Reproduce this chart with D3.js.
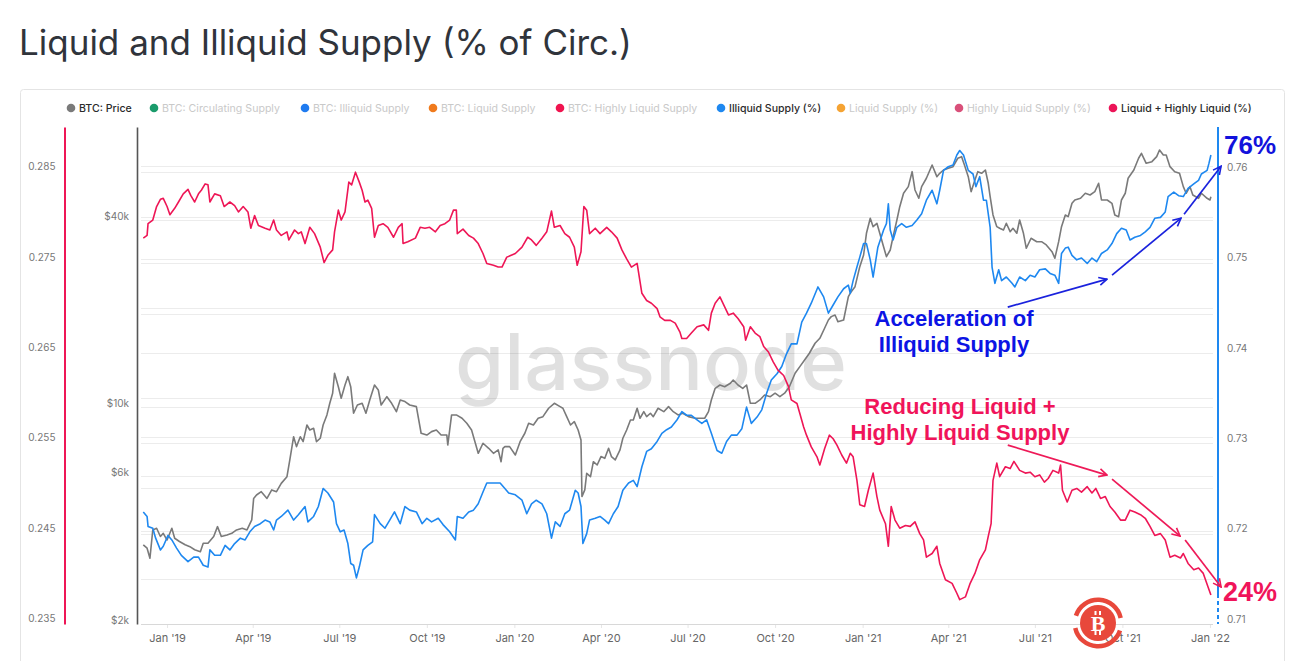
<!DOCTYPE html>
<html><head><meta charset="utf-8">
<script src="https://cdn.jsdelivr.net/npm/d3@7"></script>
<style>body{margin:0;background:#fff;}svg{display:block;font-family:Inter,"Noto Sans",sans-serif;}</style>
</head><body><svg id="c" width="1292" height="661"></svg>
<script>
// ---------- DATA (day offsets from 2019-01-01) ----------
const priceData = [[-25,3600],[-21,3510],[-18,3260],[-15,4020],[-11,4070],[-7,3830],[-4,3920],[0,3730],[5,4070],[8,3780],[13,3690],[19,3600],[24,3550],[29,3470],[35,3420],[38,3640],[43,3640],[49,3830],[53,4120],[57,3830],[63,3870],[68,3920],[73,4020],[79,4070],[84,4020],[89,4330],[91,5080],[94,5210],[99,5340],[105,5080],[110,5410],[115,5340],[120,5680],[126,5970],[129,6760],[133,8030],[136,7460],[140,8030],[143,7740],[147,8760],[150,8440],[154,8550],[157,7740],[161,7940],[164,8760],[168,9440],[171,10290],[174,11090],[176,12860],[180,11640],[183,10680],[187,11790],[190,12540],[193,11640],[196,9560],[200,10160],[205,10290],[209,9560],[213,10550],[218,11790],[222,11360],[225,10160],[231,10810],[236,10290],[241,9670],[245,10550],[250,10420],[255,10160],[262,10040],[267,8240],[273,8130],[278,8340],[283,8440],[288,8130],[294,8130],[295,7550],[299,9440],[304,9440],[310,9210],[315,8870],[320,8440],[324,7650],[327,7100],[332,7650],[338,7370],[343,7100],[348,7280],[351,6670],[353,7370],[355,7460],[360,7460],[366,7010],[371,7740],[376,8240],[380,8870],[385,8760],[390,9210],[395,9320],[401,9920],[407,10290],[413,10040],[416,9920],[420,9320],[424,8760],[428,8980],[432,8440],[435,7840],[436,5150],[439,5410],[441,6120],[445,5970],[448,6670],[452,6510],[456,6930],[460,6840],[464,7370],[467,6930],[471,6760],[476,7280],[479,7940],[483,8440],[487,9090],[490,9090],[494,9920],[497,9210],[501,9670],[504,9320],[508,9560],[511,9320],[516,9920],[522,9670],[527,10040],[532,9670],[537,9440],[542,9560],[548,9320],[555,9210],[560,9210],[565,9210],[569,9670],[572,10550],[576,11500],[581,11790],[586,11640],[592,11940],[595,12230],[600,11790],[605,11500],[609,11790],[613,10290],[618,10290],[623,10550],[628,10950],[634,10810],[639,11090],[644,10810],[649,11090],[654,11640],[660,12860],[665,13510],[670,14190],[675,14920],[681,16070],[686,16670],[691,17960],[695,19100],[698,19580],[702,19820],[705,18860],[711,19100],[716,22710],[719,23570],[723,24460],[728,28370],[732,30940],[735,36350],[739,40630],[742,38180],[746,39150],[749,36350],[753,32910],[756,30560],[760,32110],[763,35450],[767,40120],[770,44290],[774,48920],[779,51380],[783,57420],[786,50130],[790,47130],[793,51380],[798,54680],[804,60350],[809,55330],[812,56740],[816,58150],[821,58890],[826,59600],[831,63430],[835,64190],[838,60350],[842,55330],[845,49500],[849,53990],[852,57420],[856,56740],[860,58150],[863,52680],[865,47700],[868,41640],[872,38180],[875,37730],[879,37250],[882,39150],[886,36790],[889,37730],[893,36350],[896,40120],[900,36350],[903,32520],[908,35030],[914,34150],[919,34150],[924,33330],[930,31710],[933,30200],[937,34150],[940,38180],[944,41640],[947,41120],[951,45420],[954,46540],[960,47130],[965,48920],[970,48300],[975,49500],[979,52680],[982,46540],[988,46540],[993,45410],[996,41640],[1000,41120],[1003,46540],[1007,48920],[1010,54680],[1016,58150],[1021,63430],[1024,65810],[1029,61110],[1035,61850],[1040,64190],[1043,67450],[1047,64990],[1050,64990],[1054,59600],[1059,57420],[1064,56740],[1068,51380],[1071,48920],[1075,51380],[1078,48300],[1084,47130],[1087,48920],[1093,47130],[1096,46540],[1097,47700]];

const illiquidData = [[-25,0.7224],[-21,0.7219],[-20,0.7208],[-15,0.7206],[-12,0.7195],[-7,0.7182],[-4,0.7186],[1,0.7198],[5,0.7193],[10,0.7184],[15,0.7176],[22,0.7169],[28,0.7174],[33,0.7174],[38,0.7165],[43,0.7163],[45,0.7182],[50,0.7176],[56,0.7176],[61,0.7187],[66,0.7182],[71,0.7189],[77,0.7195],[82,0.7193],[87,0.7202],[92,0.7208],[98,0.7211],[103,0.7215],[108,0.7213],[112,0.7204],[115,0.7215],[120,0.7219],[127,0.7226],[133,0.7215],[138,0.7221],[145,0.7230],[148,0.7213],[154,0.7219],[159,0.7230],[164,0.7250],[169,0.7245],[175,0.7235],[178,0.7211],[182,0.7202],[186,0.7204],[190,0.7189],[193,0.7167],[196,0.7165],[199,0.7151],[202,0.7163],[206,0.7182],[211,0.7187],[216,0.7191],[218,0.7221],[224,0.7211],[229,0.7206],[234,0.7215],[239,0.7224],[245,0.7211],[250,0.7230],[255,0.7226],[262,0.7224],[268,0.7211],[273,0.7217],[278,0.7213],[285,0.7217],[290,0.7210],[297,0.7202],[303,0.7193],[305,0.7219],[311,0.7217],[317,0.7224],[322,0.7226],[327,0.7233],[332,0.7246],[336,0.7256],[343,0.7256],[350,0.7256],[355,0.7250],[359,0.7245],[366,0.7243],[373,0.7237],[378,0.7222],[383,0.7233],[388,0.7237],[394,0.7233],[399,0.7222],[404,0.7195],[408,0.7213],[413,0.7208],[418,0.7222],[423,0.7226],[429,0.7248],[432,0.7245],[435,0.7230],[437,0.7189],[441,0.7200],[444,0.7215],[450,0.7217],[455,0.7219],[460,0.7215],[464,0.7211],[469,0.7222],[474,0.7230],[479,0.7248],[485,0.7256],[490,0.7259],[494,0.7252],[499,0.7274],[504,0.7291],[509,0.7294],[515,0.7302],[520,0.7311],[525,0.7315],[530,0.7318],[536,0.7326],[541,0.7335],[546,0.7331],[551,0.7331],[557,0.7326],[562,0.7322],[567,0.7326],[572,0.7311],[578,0.7292],[583,0.7289],[588,0.7302],[593,0.7309],[599,0.7309],[604,0.7316],[609,0.7340],[614,0.7322],[620,0.7329],[625,0.7337],[630,0.7355],[635,0.7370],[641,0.7377],[646,0.7385],[651,0.7399],[656,0.7410],[662,0.7410],[667,0.7434],[672,0.7444],[677,0.7455],[684,0.7473],[690,0.7462],[695,0.7444],[700,0.7453],[705,0.7462],[711,0.7471],[716,0.7475],[718,0.7466],[721,0.7480],[725,0.7495],[728,0.7506],[732,0.7521],[735,0.7521],[739,0.7503],[742,0.7484],[747,0.7517],[753,0.7536],[756,0.7543],[758,0.7565],[760,0.7536],[763,0.7525],[767,0.7539],[772,0.7543],[777,0.7539],[783,0.7541],[788,0.7547],[793,0.7554],[798,0.7569],[804,0.7580],[809,0.7565],[812,0.7580],[816,0.7602],[821,0.7606],[826,0.7608],[830,0.7619],[833,0.7624],[837,0.7619],[842,0.7602],[847,0.7598],[850,0.7584],[854,0.7595],[858,0.7569],[861,0.7569],[865,0.7539],[867,0.7495],[870,0.7477],[874,0.7492],[877,0.7480],[882,0.7484],[888,0.7477],[891,0.7473],[896,0.7484],[902,0.7480],[907,0.7486],[912,0.7484],[917,0.7492],[923,0.7493],[928,0.7488],[933,0.7486],[937,0.7477],[940,0.7510],[944,0.7516],[947,0.7517],[951,0.7508],[956,0.7503],[961,0.7505],[967,0.7499],[972,0.7505],[977,0.7501],[982,0.7510],[988,0.7514],[993,0.7521],[998,0.7532],[1003,0.7538],[1008,0.7536],[1012,0.7525],[1017,0.7528],[1023,0.7530],[1028,0.7534],[1033,0.7539],[1038,0.7549],[1044,0.7550],[1049,0.7556],[1052,0.7573],[1058,0.7578],[1063,0.7574],[1068,0.7573],[1073,0.7582],[1079,0.7587],[1084,0.7591],[1087,0.7598],[1093,0.7602],[1095,0.7610],[1097,0.7619]];

const liquidData = [[-25,0.2777],[-21,0.2780],[-20,0.2793],[-15,0.2797],[-11,0.2812],[-7,0.2820],[-4,0.2821],[0,0.2812],[3,0.2803],[8,0.2810],[12,0.2817],[17,0.2826],[22,0.2831],[25,0.2824],[29,0.2817],[33,0.2826],[36,0.2830],[40,0.2837],[43,0.2836],[45,0.2817],[50,0.2826],[56,0.2824],[60,0.2812],[66,0.2817],[71,0.2813],[75,0.2806],[80,0.2812],[85,0.2806],[88,0.2788],[92,0.2802],[96,0.2791],[103,0.2788],[108,0.2786],[112,0.2797],[115,0.2786],[120,0.2780],[126,0.2784],[128,0.2775],[134,0.2786],[138,0.2782],[141,0.2784],[145,0.2771],[150,0.2789],[155,0.2782],[161,0.2767],[165,0.2750],[169,0.2758],[174,0.2764],[176,0.2784],[180,0.2808],[183,0.2797],[187,0.2806],[191,0.2839],[194,0.2836],[198,0.2850],[202,0.2839],[205,0.2830],[208,0.2817],[211,0.2819],[215,0.2810],[218,0.2778],[222,0.2791],[227,0.2793],[232,0.2789],[238,0.2778],[243,0.2789],[247,0.2793],[248,0.2771],[253,0.2773],[261,0.2777],[266,0.2789],[271,0.2788],[276,0.2789],[282,0.2784],[287,0.2791],[292,0.2793],[297,0.2797],[301,0.2808],[304,0.2808],[305,0.2782],[311,0.2787],[317,0.2780],[322,0.2777],[327,0.2771],[332,0.2760],[336,0.2749],[343,0.2747],[348,0.2745],[352,0.2745],[357,0.2756],[366,0.2760],[373,0.2767],[379,0.2778],[383,0.2775],[388,0.2769],[394,0.2777],[399,0.2784],[404,0.2807],[407,0.2789],[413,0.2791],[418,0.2782],[423,0.2778],[428,0.2767],[431,0.2747],[435,0.2762],[438,0.2812],[441,0.2808],[444,0.2782],[450,0.2788],[455,0.2782],[462,0.2789],[467,0.2784],[473,0.2777],[478,0.2764],[483,0.2754],[488,0.2745],[494,0.2749],[499,0.2716],[504,0.2708],[509,0.2705],[515,0.2699],[518,0.2690],[523,0.2686],[529,0.2686],[534,0.2683],[539,0.2673],[541,0.2666],[546,0.2666],[551,0.2672],[557,0.2679],[564,0.2681],[569,0.2675],[572,0.2694],[576,0.2705],[581,0.2712],[586,0.2701],[590,0.2692],[595,0.2694],[600,0.2688],[606,0.2679],[608,0.2664],[613,0.2679],[618,0.2672],[623,0.2668],[627,0.2657],[632,0.2651],[637,0.2640],[642,0.2631],[648,0.2625],[653,0.2613],[656,0.2598],[662,0.2594],[665,0.2583],[669,0.2568],[672,0.2559],[677,0.2546],[683,0.2535],[686,0.2526],[691,0.2544],[696,0.2559],[700,0.2555],[704,0.2548],[709,0.2537],[714,0.2528],[718,0.2539],[721,0.2535],[725,0.2509],[728,0.2482],[733,0.2480],[737,0.2498],[742,0.2517],[746,0.2491],[749,0.2476],[755,0.2461],[758,0.2436],[761,0.2480],[765,0.2465],[770,0.2456],[776,0.2459],[781,0.2458],[786,0.2463],[791,0.2450],[795,0.2443],[798,0.2424],[804,0.2428],[809,0.2436],[812,0.2417],[818,0.2399],[825,0.2395],[830,0.2384],[833,0.2377],[839,0.2380],[844,0.2395],[849,0.2406],[854,0.2421],[860,0.2432],[863,0.2447],[866,0.2461],[868,0.2509],[872,0.2528],[875,0.2513],[881,0.2524],[886,0.2522],[890,0.2530],[896,0.2520],[902,0.2517],[907,0.2518],[912,0.2513],[917,0.2515],[922,0.2507],[926,0.2511],[931,0.2520],[937,0.2517],[939,0.2526],[941,0.2498],[946,0.2485],[951,0.2498],[956,0.2500],[961,0.2496],[967,0.2502],[972,0.2495],[976,0.2500],[981,0.2489],[986,0.2491],[991,0.2480],[996,0.2474],[1002,0.2465],[1007,0.2465],[1012,0.2476],[1017,0.2474],[1023,0.2471],[1028,0.2467],[1033,0.2458],[1038,0.2448],[1044,0.2450],[1049,0.2443],[1054,0.2424],[1059,0.2426],[1065,0.2423],[1068,0.2428],[1073,0.2417],[1079,0.2410],[1084,0.2412],[1089,0.2406],[1094,0.2391],[1097,0.2382]];

const leftTicks = [0.235,0.245,0.255,0.265,0.275,0.285];
const rightTicks = [0.71,0.72,0.73,0.74,0.75,0.76];
const priceTicks = [2000,6000,10000,40000];
const priceTickLabels = ["$2k","$6k","$10k","$40k"];
const priceGrid = [2000,4000,6000,8000,10000,20000,30000,40000,60000];

const legendLabels = ["BTC: Price","BTC: Circulating Supply","BTC: Illiquid Supply","BTC: Liquid Supply","BTC: Highly Liquid Supply","Illiquid Supply (%)","Liquid Supply (%)","Highly Liquid Supply (%)","Liquid + Highly Liquid (%)"];
const legendColors = ["#7a7a7a","#1a9b6b","#1f7bf0","#f07a1c","#f0144f","#1e88f0","#f5a333","#d9507a","#ec1458"];
const legendActive = [true,false,false,false,false,true,false,false,true];

// annotation arrows: [startDay, startValue, endDay, endValue]
const blueArrows = [[883.5,0.74507,987.8,0.74816],[993.1,0.74861,1065.6,0.75491],[1068.8,0.75535,1107.7,0.76066]];
const redArrows = [[883.5,0.25480,987.8,0.25148],[993.1,0.25104,1064.6,0.24473],[1069.9,0.24429,1107.7,0.23909]];

// ---------- CHART ----------
const svg = d3.select("#c");
const base = Date.UTC(2019,0,1);
const toDate = d => new Date(base + d*864e5);
const x = d3.scaleUtc().domain([toDate(-29.5), toDate(1099.2)]).range([139,1213]);
const yL = d3.scaleLinear().domain([0.235,0.29]).range([624,127]);
const yR = d3.scaleLinear().domain([0.71,0.765]).range([624,127]);
const yP = d3.scaleLog().domain([2000,80000]).range([624,127]);

const RED = "#ee1656", BLUE = "#1e88f0", GRAY = "#7a7a7a";

// container + title
svg.append("rect").attr("x",20.5).attr("y",89.5).attr("width",1264).attr("height",640).attr("rx",3)
  .attr("fill","none").attr("stroke","#e4e4e4");
svg.append("text").attr("x",19).attr("y",55).attr("font-size",35).attr("fill","#30343b")
  .text("Liquid and Illiquid Supply (% of Circ.)");

// grid
const grid = svg.append("g").attr("stroke","#ececec").attr("stroke-width",1);
grid.selectAll("line.a").data(d3.range(0.235,0.2851,0.005)).join("line").attr("class","a")
  .attr("x1",141).attr("x2",1213).attr("y1",d=>Math.round(yL(d))+0.5).attr("y2",d=>Math.round(yL(d))+0.5);
grid.selectAll("line.b").data(priceGrid).join("line").attr("class","b")
  .attr("x1",141).attr("x2",1213).attr("y1",d=>Math.round(yP(d))+0.5).attr("y2",d=>Math.round(yP(d))+0.5);

// watermark
svg.append("text").attr("x",455).attr("y",390).attr("font-size",78).attr("font-weight",500)
  .attr("fill","#000").attr("fill-opacity",0.12).attr("textLength",392).attr("lengthAdjust","spacingAndGlyphs")
  .text("glassnode");

// x axis
const xAx = svg.append("g").attr("transform","translate(0,624)")
  .call(d3.axisBottom(x).ticks(d3.utcMonth.every(3)).tickFormat(d3.utcFormat("%b '%y")).tickSizeInner(4).tickSizeOuter(0).tickPadding(6));
xAx.select(".domain").remove();
xAx.selectAll(".tick line").attr("stroke","#e6e6e6");
xAx.selectAll(".tick text").attr("fill","#666").attr("font-size",11).attr("font-family","Inter");
svg.append("line").attr("x1",141).attr("x2",1213).attr("y1",624.5).attr("y2",624.5).attr("stroke","#d8d8d8");

// series
const lineOf = (ys) => d3.line().x(d=>x(toDate(d[0]))).y(d=>ys(d[1]));
const lines = svg.append("g").attr("fill","none").attr("stroke-width",1.6).attr("stroke-linejoin","round");
lines.append("path").datum(priceData).attr("stroke",GRAY).attr("d",lineOf(yP));
lines.append("path").datum(illiquidData).attr("stroke",BLUE).attr("d",lineOf(yR));
lines.append("path").datum(liquidData).attr("stroke",RED).attr("d",lineOf(yL));

// left axis (liquid %)
const lAx = svg.append("g").attr("transform","translate(64.5,0)")
  .call(d3.axisLeft(yL).tickValues(leftTicks).tickFormat(d3.format(".3f")).tickSize(0).tickPadding(9));
lAx.select(".domain").attr("stroke",RED).attr("stroke-width",2);
lAx.selectAll(".tick text").attr("y",-5.5).attr("fill","#777").attr("font-size",10).attr("font-family","Inter");

// price axis
const pAx = svg.append("g").attr("transform","translate(137,0)")
  .call(d3.axisLeft(yP).tickValues(priceTicks).tickFormat((d,i)=>priceTickLabels[i]).tickSize(0).tickPadding(8));
pAx.select(".domain").attr("stroke","#555").attr("stroke-width",1.6);
pAx.selectAll(".tick text").attr("y",-4).attr("fill","#777").attr("font-size",10).attr("font-family","Inter");

// right axis (illiquid %)
const rAx = svg.append("g").attr("transform","translate(1218,0)")
  .call(d3.axisRight(yR).tickValues(rightTicks).tickFormat(d3.format(".2f")).tickSize(0).tickPadding(9));
rAx.select(".domain").remove();
rAx.selectAll(".tick text").attr("y",-5).attr("fill","#777").attr("font-size",10).attr("font-family","Inter");
svg.append("line").attr("x1",1218).attr("x2",1218).attr("y1",yR.range()[1]).attr("y2",594).attr("stroke",BLUE).attr("stroke-width",2);
svg.append("line").attr("x1",1218).attr("x2",1218).attr("y1",594).attr("y2",yR.range()[0]).attr("stroke",BLUE).attr("stroke-width",2).attr("stroke-dasharray","4,3");

// legend
const legX = [79,162,313,441,568,729,849,967,1121];
const leg = svg.append("g").attr("font-size",10.6);
legendLabels.forEach((t,i)=>{
  leg.append("circle").attr("cx",legX[i]-8).attr("cy",108).attr("r",4.3).attr("fill",legendColors[i]);
  leg.append("text").attr("x",legX[i]).attr("y",112).attr("fill",legendActive[i]?"#2b2b2b":"#c9c9c9")
    .attr("font-weight",legendActive[i]?500:400).text(t);
});

// annotations
const defs = svg.append("defs");
function marker(id,col){
  defs.append("marker").attr("id",id).attr("viewBox","0 0 10 10").attr("refX",9).attr("refY",5)
    .attr("markerWidth",10).attr("markerHeight",10).attr("markerUnits","userSpaceOnUse").attr("orient","auto")
    .append("path").attr("d","M1,1L9,5L1,9").attr("fill","none").attr("stroke",col).attr("stroke-width",1.6);
}
const ABLUE = "#1a22dd", ARED = "#ee1a58";
marker("mb",ABLUE); marker("mr",ARED);
svg.selectAll("line.ab").data(blueArrows).join("line").attr("class","ab")
  .attr("x1",d=>x(toDate(d[0]))).attr("y1",d=>yR(d[1])).attr("x2",d=>x(toDate(d[2]))).attr("y2",d=>yR(d[3]))
  .attr("stroke",ABLUE).attr("stroke-width",1.7).attr("marker-end","url(#mb)");
svg.selectAll("line.ar").data(redArrows).join("line").attr("class","ar")
  .attr("x1",d=>x(toDate(d[0]))).attr("y1",d=>yL(d[1])).attr("x2",d=>x(toDate(d[2]))).attr("y2",d=>yL(d[3]))
  .attr("stroke",ARED).attr("stroke-width",1.7).attr("marker-end","url(#mr)");

const ann = svg.append("g").attr("font-family","'Liberation Sans',Arial,sans-serif").attr("font-weight",700);
ann.append("text").attr("x",954).attr("y",326).attr("text-anchor","middle").attr("font-size",22).attr("fill","#0c14e4").text("Acceleration of");
ann.append("text").attr("x",954).attr("y",352).attr("text-anchor","middle").attr("font-size",22).attr("fill","#0c14e4").text("Illiquid Supply");
ann.append("text").attr("x",960).attr("y",414).attr("text-anchor","middle").attr("font-size",22).attr("fill","#f0145a").text("Reducing Liquid +");
ann.append("text").attr("x",960).attr("y",440).attr("text-anchor","middle").attr("font-size",22).attr("fill","#f0145a").text("Highly Liquid Supply");
ann.append("text").attr("x",1224).attr("y",154).attr("font-size",26).attr("fill","#1212dc").text("76%");
ann.append("text").attr("x",1223).attr("y",601).attr("font-size",27).attr("fill","#f0145a").text("24%");

// bitcoin badge
const logo = svg.append("g").attr("transform","translate(1098,623)");
const arc = d3.arc().innerRadius(21).outerRadius(25.5);
logo.append("path").attr("d",arc({startAngle:-1.25,endAngle:1.35})).attr("fill","#e8483b");
logo.append("path").attr("d",arc({startAngle:1.9,endAngle:4.5})).attr("fill","#e8483b");
logo.append("circle").attr("r",18).attr("fill","#e8483b");
logo.append("text").attr("x",0).attr("y",8).attr("text-anchor","middle").attr("font-size",22)
  .attr("font-weight",700).attr("font-family","'Liberation Serif',serif").attr("fill","#fff").text("B");
logo.append("rect").attr("x",-3.5).attr("y",-12).attr("width",2).attr("height",4).attr("fill","#fff");
logo.append("rect").attr("x",1).attr("y",-12).attr("width",2).attr("height",4).attr("fill","#fff");
logo.append("rect").attr("x",-3.5).attr("y",8).attr("width",2).attr("height",4).attr("fill","#fff");
logo.append("rect").attr("x",1).attr("y",8).attr("width",2).attr("height",4).attr("fill","#fff");
</script></body></html>
